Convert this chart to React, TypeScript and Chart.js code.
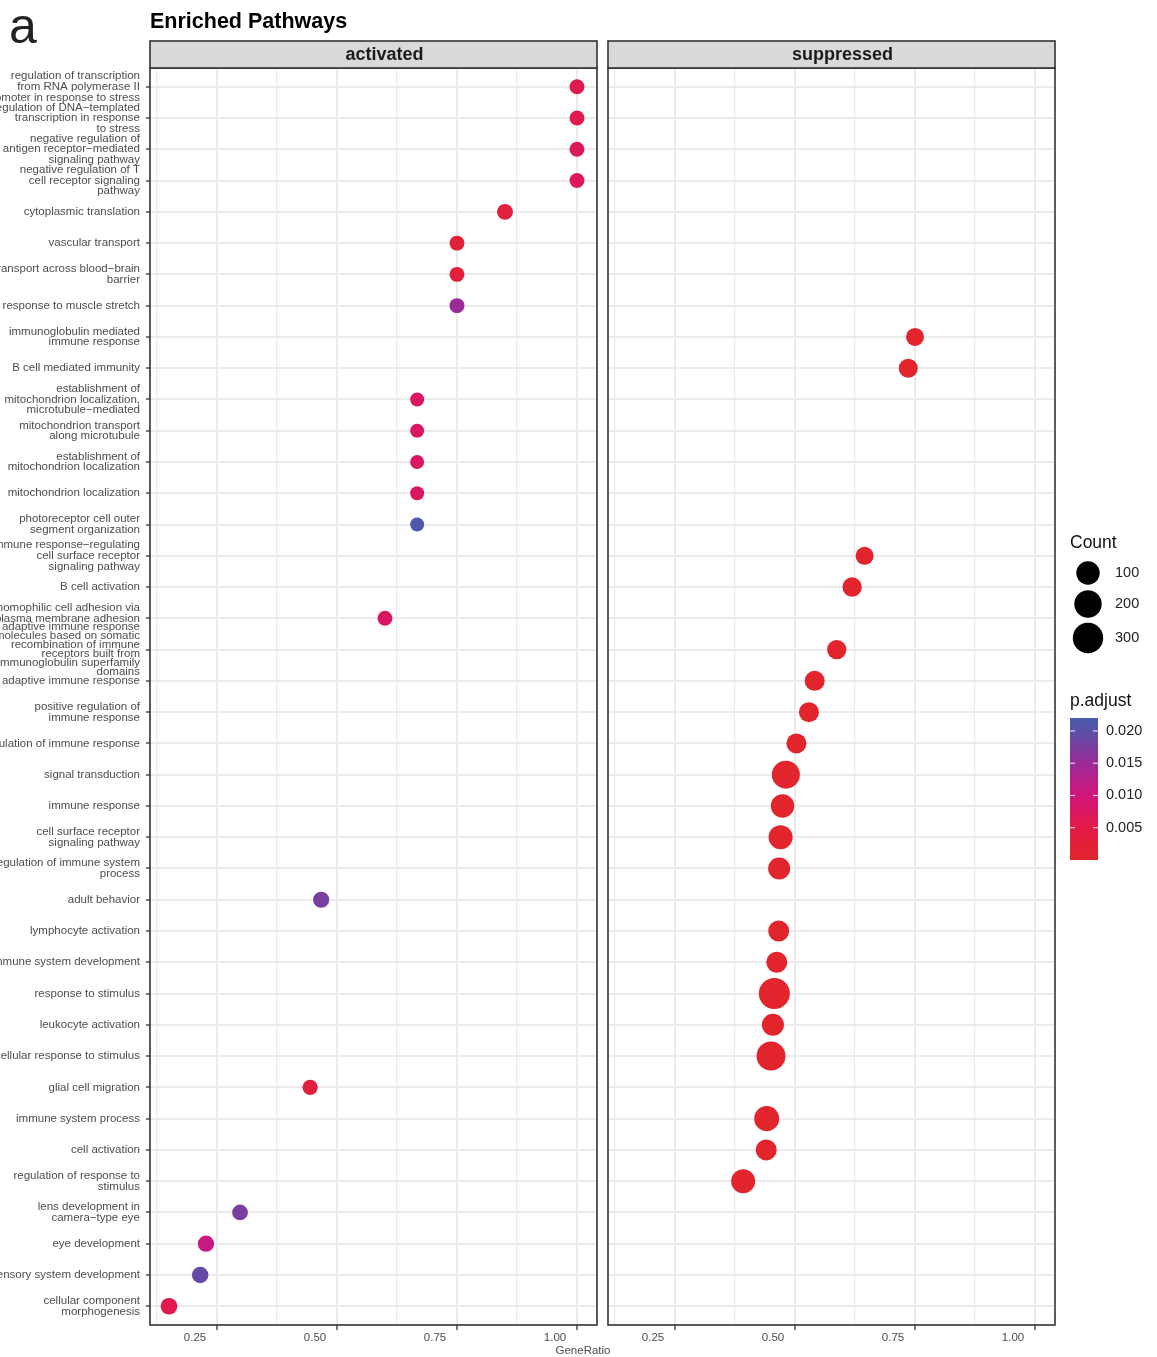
import React, { useEffect, useRef } from "react";
import { Chart, registerables } from "chart.js";

Chart.register(...registerables);

const FONT = "'Liberation Sans', Arial, Helvetica, sans-serif";

// ---------------- data ----------------
const categories = [
  "regulation of transcription\nfrom RNA polymerase II\npromoter in response to stress",
  "regulation of DNA−templated\ntranscription in response\nto stress",
  "negative regulation of\nantigen receptor−mediated\nsignaling pathway",
  "negative regulation of T\ncell receptor signaling\npathway",
  "cytoplasmic translation",
  "vascular transport",
  "transport across blood−brain\nbarrier",
  "response to muscle stretch",
  "immunoglobulin mediated\nimmune response",
  "B cell mediated immunity",
  "establishment of\nmitochondrion localization,\nmicrotubule−mediated",
  "mitochondrion transport\nalong microtubule",
  "establishment of\nmitochondrion localization",
  "mitochondrion localization",
  "photoreceptor cell outer\nsegment organization",
  "immune response−regulating\ncell surface receptor\nsignaling pathway",
  "B cell activation",
  "homophilic cell adhesion via\nplasma membrane adhesion\n ",
  "adaptive immune response\nmolecules based on somatic\nrecombination of immune\nreceptors built from\nimmunoglobulin superfamily\ndomains",
  "adaptive immune response",
  "positive regulation of\nimmune response",
  "regulation of immune response",
  "signal transduction",
  "immune response",
  "cell surface receptor\nsignaling pathway",
  "regulation of immune system\nprocess",
  "adult behavior",
  "lymphocyte activation",
  "immune system development",
  "response to stimulus",
  "leukocyte activation",
  "cellular response to stimulus",
  "glial cell migration",
  "immune system process",
  "cell activation",
  "regulation of response to\nstimulus",
  "lens development in\ncamera−type eye",
  "eye development",
  "sensory system development",
  "cellular component\nmorphogenesis",
];

const cluster = [
  "activated", "activated", "activated", "activated", "activated",
  "activated", "activated", "activated", "suppressed", "suppressed",
  "activated", "activated", "activated", "activated", "activated",
  "suppressed", "suppressed", "activated", "suppressed", "suppressed",
  "suppressed", "suppressed", "suppressed", "suppressed", "suppressed",
  "suppressed", "activated", "suppressed", "suppressed", "suppressed",
  "suppressed", "suppressed", "activated", "suppressed", "suppressed",
  "suppressed", "activated", "activated", "activated", "activated",
];

const geneRatio = [
  1.0, 1.0, 1.0, 1.0, 0.85,
  0.75, 0.75, 0.75, 0.75, 0.736,
  0.667, 0.667, 0.667, 0.667, 0.667,
  0.645, 0.619, 0.6, 0.587, 0.541,
  0.529, 0.503, 0.481, 0.474, 0.47,
  0.467, 0.467, 0.466, 0.462, 0.457,
  0.454, 0.45, 0.444, 0.441, 0.44,
  0.392, 0.298, 0.227, 0.215, 0.15,
];

const geneCount = [
  3, 3, 3, 3, 6,
  3, 3, 3, 20, 30,
  2, 2, 2, 2, 2,
  20, 34, 3, 34, 42,
  42, 42, 219, 100, 112,
  73, 7, 56, 56, 321,
  73, 250, 4, 136, 56,
  112, 5, 8, 9, 10,
];

const pAdjust = [
  0.0055, 0.0055, 0.0065, 0.0065, 0.003,
  0.0025, 0.0025, 0.015, 0.0004, 0.0004,
  0.0075, 0.0075, 0.0075, 0.0075, 0.0215,
  0.0004, 0.0004, 0.0075, 0.0004, 0.0004,
  0.0004, 0.0004, 0.0004, 0.0004, 0.0004,
  0.0004, 0.0175, 0.0004, 0.0004, 0.0004,
  0.0004, 0.0004, 0.003, 0.0004, 0.0004,
  0.0004, 0.0175, 0.011, 0.019, 0.0055,
];

const panels = ["activated", "suppressed"];
const xGridValues = [0.125, 0.25, 0.375, 0.5, 0.625, 0.75, 0.875, 1.0];
const xLabelValues = [0.25, 0.5, 0.75, 1.0];
const countLegendValues = [100, 200, 300];
const pLegendValues = [0.005, 0.01, 0.015, 0.02];

// ---------------- scales (size / colour) ----------------
const X_MIN = 0.1104;
const X_MAX = 1.0417;
const C_MIN = 2, C_MAX = 360, R_MIN = 7, R_MAX = 16;
const P_MIN = 0, P_MAX = 0.022;

function sizeOf(c: number) {
  const t = Math.max(0, Math.min(1, (c - C_MIN) / (C_MAX - C_MIN)));
  return R_MIN + (R_MAX - R_MIN) * Math.sqrt(t);
}

const colorStops: [number, number[]][] = [
  [0.0, [226, 38, 42]],
  [0.23, [226, 26, 72]],
  [0.45, [210, 22, 122]],
  [0.68, [155, 42, 152]],
  [0.9, [92, 78, 168]],
  [1.0, [72, 92, 174]],
];

function colorOf(p: number) {
  const t = Math.max(0, Math.min(1, (p - P_MIN) / (P_MAX - P_MIN)));
  for (let i = 1; i < colorStops.length; i++) {
    const [t1, c1] = colorStops[i];
    const [t0, c0] = colorStops[i - 1];
    if (t <= t1) {
      const f = (t - t0) / (t1 - t0);
      const c = c0.map((v, j) => Math.round(v + (c1[j] - v) * f));
      return `rgb(${c[0]},${c[1]},${c[2]})`;
    }
  }
  const c = colorStops[colorStops.length - 1][1];
  return `rgb(${c[0]},${c[1]},${c[2]})`;
}

// ---------------- layout ----------------
const W = 1157;
const H = 1357;
const PANEL_TOP = 68;
const STRIP_TOP = 41;
const X_AXIS_H = 32;
const panelX = [
  [150, 597],
  [608, 1055],
];

const isMajor = (v: number) => Math.abs(v * 4 - Math.round(v * 4)) < 1e-6;

function decorPlugin(k: number) {
  return {
    id: "decor" + k,
    afterDraw(chart: any) {
      const { ctx, chartArea: a } = chart;
      ctx.save();
      // panel border
      ctx.strokeStyle = "#333333";
      ctx.lineWidth = 1.6;
      ctx.strokeRect(a.left, a.top, a.right - a.left, a.bottom - a.top);
      // strip
      ctx.fillStyle = "#d9d9d9";
      ctx.fillRect(a.left, STRIP_TOP, a.right - a.left, a.top - STRIP_TOP);
      ctx.strokeRect(a.left, STRIP_TOP, a.right - a.left, a.top - STRIP_TOP);
      ctx.fillStyle = "#1a1a1a";
      ctx.font = `bold 18px ${FONT}`;
      ctx.textAlign = "center";
      ctx.textBaseline = "middle";
      ctx.fillText(panels[k], (a.left + a.right) / 2 + 11, (STRIP_TOP + a.top) / 2 + 1);

      if (k === 0) {
        ctx.textAlign = "left";
        ctx.textBaseline = "alphabetic";
        ctx.fillStyle = "#222222";
        ctx.font = `50px ${FONT}`;
        ctx.fillText("a", 9, 43);
        ctx.fillStyle = "#000000";
        ctx.font = `bold 21.5px ${FONT}`;
        ctx.fillText("Enriched Pathways", 150, 28);
        ctx.fillStyle = "#4d4d4d";
        ctx.font = `11.5px ${FONT}`;
        ctx.textAlign = "center";
        ctx.textBaseline = "middle";
        ctx.fillText("GeneRatio", 583, 1351);
      } else {
        // Count legend
        ctx.textAlign = "left";
        ctx.textBaseline = "middle";
        ctx.fillStyle = "#111111";
        ctx.font = `17.5px ${FONT}`;
        ctx.fillText("Count", 1070, 543);
        const cy = [573, 604, 638];
        countLegendValues.forEach((c, i) => {
          ctx.beginPath();
          ctx.fillStyle = "#000000";
          ctx.arc(1088, cy[i], sizeOf(c), 0, Math.PI * 2);
          ctx.fill();
          ctx.fillStyle = "#222222";
          ctx.font = `14.5px ${FONT}`;
          ctx.fillText(String(c), 1115, cy[i]);
        });
        // p.adjust legend
        ctx.fillStyle = "#111111";
        ctx.font = `17.5px ${FONT}`;
        ctx.fillText("p.adjust", 1070, 701);
        const barTop = 718, barBottom = 860, barX = 1070, barW = 28;
        for (let y = barTop; y < barBottom; y++) {
          const v = P_MIN + ((barBottom - (y + 0.5)) / (barBottom - barTop)) * (P_MAX - P_MIN);
          ctx.fillStyle = colorOf(v);
          ctx.fillRect(barX, y, barW, 1);
        }
        pLegendValues.forEach((v) => {
          const y = barBottom - ((v - P_MIN) / (P_MAX - P_MIN)) * (barBottom - barTop);
          ctx.strokeStyle = "rgba(255,255,255,0.9)";
          ctx.lineWidth = 1;
          ctx.beginPath();
          ctx.moveTo(barX, y);
          ctx.lineTo(barX + 5, y);
          ctx.moveTo(barX + barW - 5, y);
          ctx.lineTo(barX + barW, y);
          ctx.stroke();
          ctx.fillStyle = "#222222";
          ctx.font = `14.5px ${FONT}`;
          ctx.fillText(v.toFixed(3), 1106, y);
        });
      }
      ctx.restore();
    },
  };
}

function makeChart(canvas: HTMLCanvasElement, k: number) {
  const [left, right] = panelX[k];
  const pts = categories
    .map((_, i) => i)
    .filter((i) => cluster[i] === panels[k])
    .map((i) => ({ x: geneRatio[i], y: i, count: geneCount[i], p: pAdjust[i] }));

  return new Chart(canvas, {
    type: "scatter",
    data: {
      datasets: [
        {
          data: pts,
          pointRadius: (c: any) => sizeOf(c.raw.count),
          pointHoverRadius: (c: any) => sizeOf(c.raw.count),
          pointBackgroundColor: (c: any) => colorOf(c.raw.p),
          pointBorderWidth: 0,
          pointBorderColor: "rgba(0,0,0,0)",
        } as any,
      ],
    },
    options: {
      responsive: false,
      animation: false,
      events: [],
      layout: {
        padding: { left: k === 0 ? 0 : left, right: W - right, top: PANEL_TOP, bottom: 0 },
      },
      plugins: { legend: { display: false }, tooltip: { enabled: false } },
      scales: {
        x: {
          type: "linear",
          min: X_MIN,
          max: X_MAX,
          afterBuildTicks: (s: any) => {
            s.ticks = xGridValues.map((v) => ({ value: v }));
          },
          afterFit: (s: any) => {
            s.height = X_AXIS_H;
          },
          ticks: {
            autoSkip: false,
            maxRotation: 0,
            minRotation: 0,
            labelOffset: -22,
            padding: 1,
            color: "#4d4d4d",
            font: { family: FONT, size: 11.5 },
            callback: (v: any) => (xLabelValues.some((t) => Math.abs(t - v) < 1e-9) ? Number(v).toFixed(2) : ""),
          },
          grid: {
            color: "#ebebeb",
            lineWidth: (c: any) => (isMajor(c.tick.value) ? 2 : 1.2),
            tickLength: 5,
            tickColor: (c: any) => (isMajor(c.tick.value) ? "#333333" : "rgba(0,0,0,0)"),
            tickWidth: 1.3,
          },
          border: { display: false },
        },
        y: {
          type: "linear",
          reverse: true,
          min: -0.6,
          max: categories.length - 0.4,
          afterBuildTicks: (s: any) => {
            s.ticks = categories.map((_, i) => ({ value: i }));
          },
          afterFit: (s: any) => {
            s.width = k === 0 ? left : 0;
          },
          ticks: {
            display: k === 0,
            autoSkip: false,
            padding: 6,
            color: "#4d4d4d",
            font: (c: any) => ({ family: FONT, size: 11.5, lineHeight: c.index === 18 ? 0.78 : 0.92 }),
            callback: (v: any) => categories[Math.round(v)].split("\n"),
          },
          grid: {
            color: "#ebebeb",
            lineWidth: 2,
            drawTicks: k === 0,
            tickLength: 4,
            tickColor: "#333333",
            tickWidth: 1.3,
          },
          border: { display: false },
        },
      },
    } as any,
    plugins: [decorPlugin(k)],
  });
}

export default function App() {
  const leftRef = useRef<HTMLCanvasElement>(null);
  const rightRef = useRef<HTMLCanvasElement>(null);

  useEffect(() => {
    const charts: Chart[] = [];
    if (leftRef.current) charts.push(makeChart(leftRef.current, 0));
    if (rightRef.current) charts.push(makeChart(rightRef.current, 1));
    return () => charts.forEach((c) => c.destroy());
  }, []);

  const style: React.CSSProperties = {
    position: "absolute",
    left: 0,
    top: 0,
    width: W,
    height: H,
    display: "block",
  };

  return (
    <div style={{ position: "absolute", left: 0, top: 0, width: W, height: H, background: "#ffffff", overflow: "hidden" }}>
      <canvas ref={leftRef} width={W} height={H} style={style} />
      <canvas ref={rightRef} width={W} height={H} style={style} />
    </div>
  );
}
